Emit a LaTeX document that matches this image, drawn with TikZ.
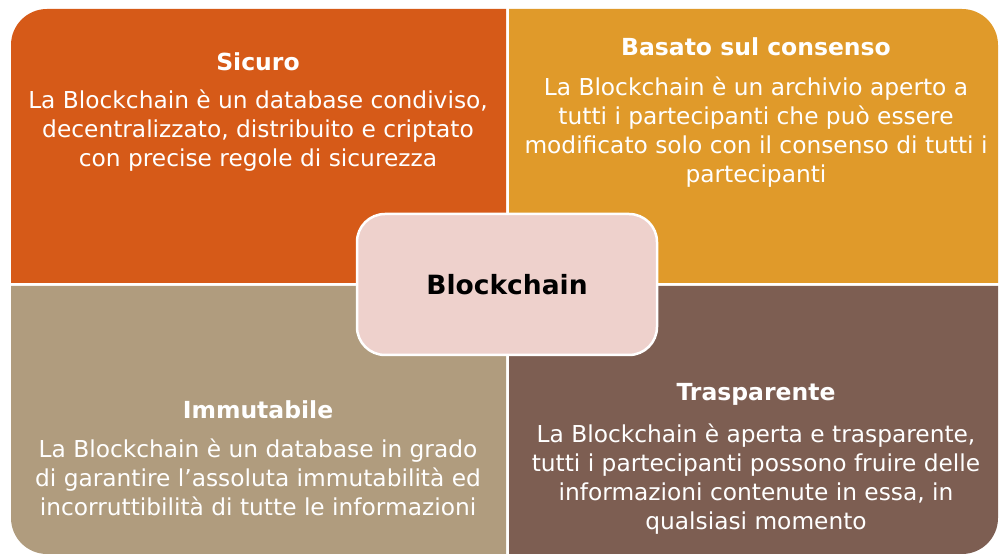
\documentclass[tikz,border=0pt]{standalone}
\usepackage{fontspec}
\setmainfont{DejaVu Sans}
\definecolor{cOrange}{HTML}{D65A18}
\definecolor{cGold}{HTML}{E09A2A}
\definecolor{cTan}{HTML}{B09C7E}
\definecolor{cBrown}{HTML}{7D5E52}
\definecolor{cPink}{HTML}{EED1CC}
\tikzset{
  quadtitle/.style={text=white, font=\fontsize{23.5}{28}\selectfont\bfseries, inner sep=0pt, anchor=center},
  quadbody/.style={text=white, font=\fontsize{23.3}{29}\selectfont, align=center, inner sep=0pt, anchor=center},
  centerbox/.style={fill=cPink, draw=white, line width=2.5pt, rounded corners=28pt, minimum width=300pt, minimum height=141pt, font=\fontsize{26.5}{30}\selectfont\bfseries, text=black}
}
\begin{document}
\begin{tikzpicture}[x=1pt,y=1pt]
\useasboundingbox (0,0) rectangle (999,556);
\def\r{36}
% quadrants
\fill[cOrange] (506,273) -- (11,273) -- (11,547-\r) arc[start angle=180,end angle=90,radius=\r] -- (506,547) -- cycle;
\fill[cGold] (509,273) -- (509,547) -- (998-\r,547) arc[start angle=90,end angle=0,radius=\r] -- (998,273) -- cycle;
\fill[cTan] (11,270) -- (506,270) -- (506,2) -- (11+\r,2) arc[start angle=270,end angle=180,radius=\r] -- cycle;
\fill[cBrown] (509,270) -- (998,270) -- (998,2+\r) arc[start angle=0,end angle=-90,radius=\r] -- (509,2) -- cycle;
% texts
\node[quadtitle] (t1) at (258,494) {Sicuro};
\node[quadbody] (b1) at (258,425) {La Blockchain è un database condiviso,\\decentralizzato, distribuito e criptato\\con precise regole di sicurezza};
\node[quadtitle] (t2) at (756,509) {Basato sul consenso};
\node[quadbody] (b2) at (756,424) {La Blockchain è un archivio aperto a\\tutti i partecipanti che può essere\\modificato solo con il consenso di tutti i\\partecipanti};
\node[quadtitle] (t3) at (258,146) {Immutabile};
\node[quadbody] (b3) at (258,79) {La Blockchain è un database in grado\\di garantire l’assoluta immutabilità ed\\incorruttibilità di tutte le informazioni};
\node[quadtitle] (t4) at (756,162) {Trasparente};
\node[quadbody] (b4) at (756,77) {La Blockchain è aperta e trasparente,\\tutti i partecipanti possono fruire delle\\informazioni contenute in essa, in\\qualsiasi momento};
% center
\node[centerbox] (c) at (507,271.5) {Blockchain};
\end{tikzpicture}
\end{document}
